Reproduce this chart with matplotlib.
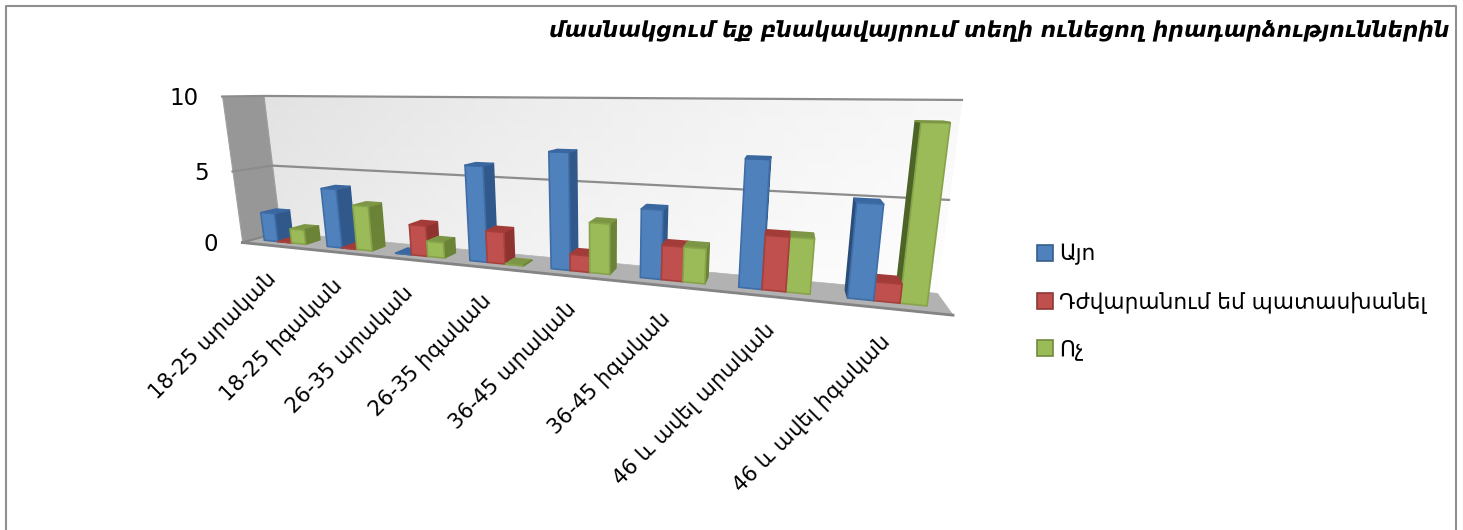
import numpy as np
import matplotlib
matplotlib.use("Agg")
import matplotlib.pyplot as plt
from matplotlib.lines import Line2D
from matplotlib.patches import Patch
from mpl_toolkits.mplot3d.art3d import Poly3DCollection

# ---------- data ----------
title = "մասնակցում եք բնակավայրում տեղի ունեցող իրադարձություններին"
categories = ["18-25 արական", "18-25 իգական", "26-35 արական", "26-35 իգական",
              "36-45 արական", "36-45 իգական", "46 և ավել արական", "46 և ավել իգական"]
series_names = ["Այո", "Դժվարանում եմ պատասխանել", "Ոչ"]
yes_values = [2, 4, 0, 6, 7, 4, 7, 5]
hard_values = [0, 0, 2, 2, 1, 2, 3, 1]
no_values = [1, 3, 1, 0, 3, 2, 3, 9]
value_ticks = [0, 5, 10]

# ---------- style ----------
W, H, DPI = 1463, 530, 100
plt.rcParams["font.family"] = ["DejaVu Sans"]
front = ["#4f81bd", "#c0504d", "#9bbb59"]
top = ["#3a67a0", "#a33b38", "#7c9645"]
side_r = ["#31588a", "#8e3330", "#6b8336"]
side_l = ["#2a4c78", "#7a2b29", "#4c6426"]
edge = ["#3f6da6", "#a5403d", "#86a34a"]

# camera: world (category, depth, value) -> reference pixels, solved from the chart box corners
box_world = np.array([[0, 0, 0], [8, 0, 0], [0, 1, 0], [8, 1, 0], [0, 0, 10], [0, 1, 10],
                      [8, 1, 10], [0, 0, 5], [0, 1, 5], [8, 1, 5]], float)
box_pixel = np.array([[243, 242], [953, 316], [279, 233], [937, 292], [221, 97], [264, 96],
                      [962, 100], [233, 171], [273, 165], [949, 200]], float)
rows = []
for (X, Y, Z), (u, v) in zip(box_world, box_pixel):
    rows.append([X, Y, Z, 1, 0, 0, 0, 0, -u * X, -u * Y, -u * Z, -u])
    rows.append([0, 0, 0, 0, X, Y, Z, 1, -v * X, -v * Y, -v * Z, -v])
P = np.linalg.svd(np.array(rows))[2][-1].reshape(3, 4)
if P[2, 3] < 0:
    P = -P
cam = np.linalg.svd(P)[2][-1]
cam = cam[:3] / cam[3]


def to_pixel(x, y, z):
    q = P @ np.array([x, y, z, 1.0])
    return q[0] / q[2], q[1] / q[2]


fig = plt.figure(figsize=(W / DPI, H / DPI), dpi=DPI)
ax = fig.add_axes([0, 0, 1, 1], projection="3d", computed_zorder=False)
ax.set_axis_off()
ax.apply_aspect = lambda position=None, **kw: None


def fitted_proj():
    inv = ax.transData.inverted()
    o = inv.transform((0, H))
    ex = inv.transform((1, H)) - o
    ey = inv.transform((0, H - 1)) - o
    A = np.array([[ex[0], ey[0], o[0]], [ex[1], ey[1], o[1]], [0, 0, 1]])
    Q = A @ P
    return np.array([Q[0], Q[1], [0, 0, 0, -1.0], Q[2]])


ax.get_proj = fitted_proj

# back wall, shaded in small cells
nx, nz = 64, 12
cells, shades = [], []
for i in range(nx):
    for k in range(nz):
        x0, x1 = 8 * i / nx, 8 * (i + 1) / nx
        z0, z1 = 10 * k / nz, 10 * (k + 1) / nz
        cells.append([(x0, 1, z0), (x1, 1, z0), (x1, 1, z1), (x0, 1, z1)])
        g = 0.885 + 0.085 * (i + .5) / nx + 0.025 * (1 - (k + .5) / nz)
        shades.append((g, g, g))
wall = Poly3DCollection(cells, facecolors=shades, edgecolors="none", linewidths=0, antialiaseds=False, zorder=1)
ax.add_collection3d(wall)
left = Poly3DCollection([[(0, 0, 0), (0, 1, 0), (0, 1, 10), (0, 0, 10)]], facecolors="#979797",
                        edgecolors="#a0a0a0", linewidths=0.8, zorder=2)
ax.add_collection3d(left)
floor = Poly3DCollection([[(0, 0, 0), (8, 0, 0), (8, 1, 0), (0, 1, 0)]], facecolors="#b2b2b2",
                         edgecolors="#b2b2b2", linewidths=0.5, zorder=2)
ax.add_collection3d(floor)

line_gray = "#8c8c8c"
for v in value_ticks[1:]:
    ax.plot([0, 0, 8], [0, 1, 1], [v, v, v], color=line_gray, lw=1.6, zorder=3)
ax.plot([0, 8], [0, 0], [0, 0], color="#848484", lw=2, zorder=3)
ax.plot([0, 0], [0, 1], [0, 0], color="#848484", lw=1.5, zorder=3)

# bars
all_values = [yes_values, hard_values, no_values]
n_series = len(all_values)
bar_w = 1 / (n_series + 1.5)
pad = (1 - n_series * bar_w) / 2
y0, depth = 0.3, 0.4
order = []
for s, vals in enumerate(all_values):
    for c, val in enumerate(vals):
        bx = c + pad + s * bar_w
        order.append((abs(bx + bar_w / 2 - cam[0]), s, bx, val))
order.sort(key=lambda t: -t[0])
for rank, (_, s, bx, val) in enumerate(order):
    see_left = cam[0] < bx
    see_right = cam[0] > bx + bar_w
    fc = ["none", top[s], front[s], "none",
          side_l[s] if see_left else "none", side_r[s] if see_right else "none"]
    ec = ["none", top[s], edge[s], "none",
          side_l[s] if see_left else "none", side_r[s] if see_right else "none"]
    col = ax.bar3d(bx, y0, 0, bar_w, depth, val, color=fc, edgecolor=ec, linewidth=1.2, shade=False)
    col.set_zorder(10 + rank)

# labels (placed from the projected box positions)
for v in value_ticks:
    px, py = to_pixel(0, 0, v)
    fig.text((px - 24) / W, 1 - (py + 1.5) / H, str(v), ha="right", va="center", fontsize=16.5, color="black")
for c, name in enumerate(categories):
    px, py = to_pixel(c + 0.45, 0, 0)
    fig.text((px + 3.5) / W, 1 - (py + 30) / H, name, rotation=45, rotation_mode="anchor", ha="right", va="center",
             fontsize=15.2, color="black")

fig.suptitle(title, x=1449 / W, y=1 - 30 / H, ha="right", va="center", fontsize=15.7,
             fontweight="bold", fontstyle="italic")

handles = [Patch(facecolor=f, edgecolor=e, linewidth=1.2, label=n)
           for f, e, n in zip(front, ["#385d8a", "#8c3836", "#71893f"], series_names)]
fig.legend(handles=handles, loc="center left", bbox_to_anchor=(1030 / W, 1 - 302 / H), frameon=False,
           fontsize=15.7, handlelength=0.74, handleheight=0.74, handletextpad=0.3, labelspacing=1.2,
           borderpad=0, borderaxespad=0.3)

# outer frame (open at the bottom)
frame = Line2D([5.5 / W, 5.5 / W, 1455.5 / W, 1455.5 / W], [0, 1 - 5.5 / H, 1 - 5.5 / H, 0],
               transform=fig.transFigure, color="#8f8f8f", lw=1.5)
fig.add_artist(frame)

fig.savefig("out.png", dpi=DPI)
